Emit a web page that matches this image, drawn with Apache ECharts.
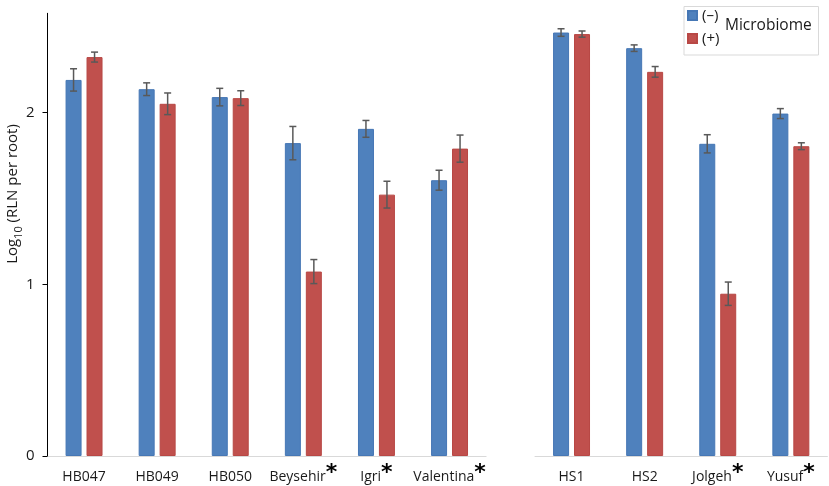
<!DOCTYPE html>
<html>
<head>
<meta charset="utf-8">
<title>RLN per root</title>
<script src="https://cdn.jsdelivr.net/npm/echarts@6/dist/echarts.min.js"></script>
<style>
  html, body { margin: 0; padding: 0; background: #fff; }
  #chart { width: 829px; height: 486px; }
</style>
</head>
<body>
<div id="chart"></div>
<script>
// cultivars, left block and right block
var catsLeft = ['HB047', 'HB049', 'HB050', 'Beysehir', 'Igri', 'Valentina'];
var catsRight = ['HS1', 'HS2', 'Jolgeh', 'Yusuf'];
var starred = ['Beysehir', 'Igri', 'Valentina', 'Jolgeh', 'Yusuf'];

// log10 RLN per root, (-) and (+) microbiome
var minusLeft = [2.19, 2.136, 2.09, 1.822, 1.905, 1.606];
var plusLeft = [2.323, 2.051, 2.084, 1.074, 1.522, 1.790];
var minusRight = [2.466, 2.375, 1.818, 1.994];
var plusRight = [2.457, 2.237, 0.945, 1.804];

// error bar half lengths
var minusErrLeft = [0.065, 0.037, 0.051, 0.097, 0.049, 0.058];
var plusErrLeft = [0.029, 0.063, 0.043, 0.070, 0.078, 0.079];
var minusErrRight = [0.022, 0.019, 0.053, 0.029];
var plusErrRight = [0.018, 0.031, 0.068, 0.020];

var yTicks = [0, 1, 2];

var BLUE = '#4F81BD', RED = '#C0504D';
var FONT = 'Open Sans';
var YMAX = 2.578;
var BAR_W = 16, OFF = 10.5;

function xAxisFor(idx, cats) {
  return {
    type: 'category', gridIndex: idx, data: cats,
    axisTick: { show: false },
    axisLine: { lineStyle: { color: '#D9D9D9', width: 1 } },
    axisLabel: {
      interval: 0, margin: 6, color: '#1a1a1a', fontFamily: FONT, fontSize: 14,
      formatter: function (v) {
        return starred.indexOf(v) >= 0 ? '{t|' + v + '}{s|*}' : '{t|' + v + '}';
      },
      rich: {
        t: { fontFamily: FONT, fontSize: 14, color: '#1a1a1a', lineHeight: 22, verticalAlign: 'bottom' },
        s: { fontSize: 22, fontWeight: 'bold', color: '#000', fontFamily: 'DejaVu Sans', lineHeight: 14, verticalAlign: 'top' }
      }
    }
  };
}

function yAxisFor(idx, visible) {
  return {
    type: 'value', gridIndex: idx, min: 0, max: YMAX, interval: 1,
    show: visible,
    splitLine: { show: false },
    axisLine: { show: true, lineStyle: { color: '#000', width: 1 } },
    axisTick: { show: true, length: 5, inside: false, customValues: yTicks, lineStyle: { color: '#000' } },
    axisLabel: { customValues: yTicks, margin: 13, color: '#1a1a1a', fontFamily: FONT, fontSize: 15 }
  };
}

function barSeries(idx, name, vals, color, border) {
  return {
    type: 'bar', name: name, xAxisIndex: idx, yAxisIndex: idx, data: vals,
    barWidth: BAR_W, barGap: '31%',
    itemStyle: { color: color, borderColor: border, borderWidth: 1 },
    emphasis: { disabled: true }
  };
}

function errSeries(idx, vals, errs, offset) {
  return {
    type: 'custom', xAxisIndex: idx, yAxisIndex: idx, z: 10, silent: true,
    data: vals.map(function (v, i) { return [i, v, errs[i]]; }),
    encode: { x: 0, y: 1 },
    renderItem: function (params, api) {
      var i = api.value(0), v = api.value(1), e = api.value(2);
      var x = api.coord([i, v])[0] + offset;
      var yt = api.coord([i, v + e])[1];
      var yb = api.coord([i, v - e])[1];
      var st = { stroke: '#595959', lineWidth: 1.5 };
      return {
        type: 'group',
        children: [
          { type: 'line', shape: { x1: x, y1: yt, x2: x, y2: yb }, style: st },
          { type: 'line', shape: { x1: x - 3.5, y1: yt, x2: x + 3.5, y2: yt }, style: st },
          { type: 'line', shape: { x1: x - 3.5, y1: yb, x2: x + 3.5, y2: yb }, style: st }
        ]
      };
    }
  };
}

var chart = echarts.init(document.getElementById('chart'));
chart.setOption({
  animation: false,
  grid: [
    { left: 47.5, top: 13.3, width: 438.6, bottom: 30 },
    { left: 535, top: 13.3, width: 292.4, bottom: 30 }
  ],
  xAxis: [xAxisFor(0, catsLeft), xAxisFor(1, catsRight)],
  yAxis: [yAxisFor(0, true), yAxisFor(1, false)],
  legend: {
    orient: 'vertical', left: 682, top: 4, padding: [2, 5, 5, 5],
    itemWidth: 9, itemHeight: 9, itemGap: 4,
    icon: 'rect',
    data: ['(–)', '(+)'],
    textStyle: { fontFamily: FONT, fontSize: 15, color: '#1a1a1a', lineHeight: 19 },
    selectedMode: false
  },
  graphic: [
    { type: 'rect', left: 681.5, top: 4, shape: { width: 134.5, height: 48.5 },
      style: { fill: 'none', stroke: '#D9D9D9', lineWidth: 1 }, z: 1 },
    { type: 'text', left: 725, top: 18,
      style: { text: 'Microbiome', fontFamily: FONT, fontSize: 15.5, fill: '#1a1a1a' } },
    { type: 'text', x: 13, y: 194, rotation: Math.PI / 2,
      style: {
        text: '{a|Log}{b|10}{a| (RLN per root)}',
        align: 'center', verticalAlign: 'middle',
        rich: {
          a: { fontFamily: FONT, fontSize: 15, fill: '#1a1a1a', lineHeight: 22, verticalAlign: 'middle' },
          b: { fontFamily: FONT, fontSize: 11, fill: '#1a1a1a', lineHeight: 22, verticalAlign: 'bottom' }
        }
      } }
  ],
  series: [
    barSeries(0, '(–)', minusLeft, BLUE, '#4677B5'),
    barSeries(0, '(+)', plusLeft, RED, '#B84845'),
    barSeries(1, '(–)', minusRight, BLUE, '#4677B5'),
    barSeries(1, '(+)', plusRight, RED, '#B84845'),
    errSeries(0, minusLeft, minusErrLeft, -OFF),
    errSeries(0, plusLeft, plusErrLeft, OFF),
    errSeries(1, minusRight, minusErrRight, -OFF),
    errSeries(1, plusRight, plusErrRight, OFF)
  ]
});
</script>
</body>
</html>
